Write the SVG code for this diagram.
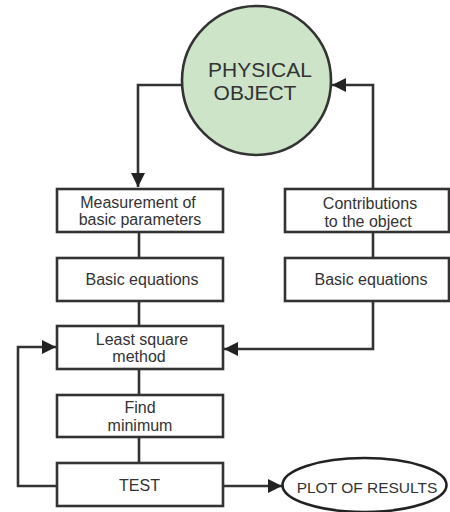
<svg xmlns="http://www.w3.org/2000/svg" width="450" height="512" viewBox="0 0 450 512">
<style>
.box{fill:#fff;stroke:#333;stroke-width:2.6}
.ln{fill:none;stroke:#333;stroke-width:2.6}
text{font-family:"Liberation Sans",Arial,sans-serif;fill:#333;text-anchor:middle}
.t{font-size:16px}
.big{font-size:21px}
.pl{font-size:15.5px}
</style>
<defs>
<marker id="ah" markerUnits="userSpaceOnUse" markerWidth="15" markerHeight="15" refX="14" refY="7" orient="auto">
<path d="M0,0 L14,7 L0,14 z" fill="#222"/>
</marker>
</defs>
<rect width="450" height="512" fill="#fff"/>
<g id="connectors">
<path class="ln" d="M182,85 H138 V187" marker-end="url(#ah)"/>
<path class="ln" d="M373,189 V85 H332" marker-end="url(#ah)"/>
<path class="ln" d="M139,232 V258"/>
<path class="ln" d="M139,301 V326"/>
<path class="ln" d="M373,232 V258"/>
<path class="ln" d="M373,301 V349 H224" marker-end="url(#ah)"/>
<path class="ln" d="M139,369 V395"/>
<path class="ln" d="M139,437 V463"/>
<path class="ln" d="M57,486 H18 V347 H56" marker-end="url(#ah)"/>
<path class="ln" d="M223,486 H282" marker-end="url(#ah)"/>
</g>
<g id="physical-object">
<circle cx="256.5" cy="80.5" r="74.5" fill="#cde4c9" stroke="#333" stroke-width="2.6"/>
<text class="big" x="260" y="77">PHYSICAL</text>
<text class="big" x="255" y="100">OBJECT</text>
</g>
<g id="measurement">
<rect class="box" x="57" y="189" width="166" height="43"/>
<text class="t" x="138" y="207.5">Measurement of</text>
<text class="t" x="140" y="225">basic parameters</text>
</g>
<g id="basic-equations-left">
<rect class="box" x="57" y="258" width="166" height="43"/>
<text class="t" x="142" y="284.5">Basic equations</text>
</g>
<g id="least-square">
<rect class="box" x="57" y="326" width="166" height="43"/>
<text class="t" x="142" y="345">Least square</text>
<text class="t" x="139" y="361.5">method</text>
</g>
<g id="find-minimum">
<rect class="box" x="57" y="395" width="166" height="42"/>
<text class="t" x="140" y="412.5">Find</text>
<text class="t" x="140" y="430.5">minimum</text>
</g>
<g id="test">
<rect class="box" x="57" y="463" width="166" height="43"/>
<text class="t" x="139.5" y="490.5">TEST</text>
</g>
<g id="contributions">
<rect class="box" x="285" y="189" width="164" height="43"/>
<text class="t" x="370" y="209">Contributions</text>
<text class="t" x="368" y="226.5">to the object</text>
</g>
<g id="basic-equations-right">
<rect class="box" x="285" y="258" width="164" height="43"/>
<text class="t" x="371" y="284.5">Basic equations</text>
</g>
<g id="plot-of-results">
<ellipse cx="364.5" cy="485" rx="82" ry="27" fill="#fff" stroke="#222" stroke-width="2.6"/>
<text class="pl" x="367" y="493">PLOT OF RESULTS</text>
</g>
</svg>
